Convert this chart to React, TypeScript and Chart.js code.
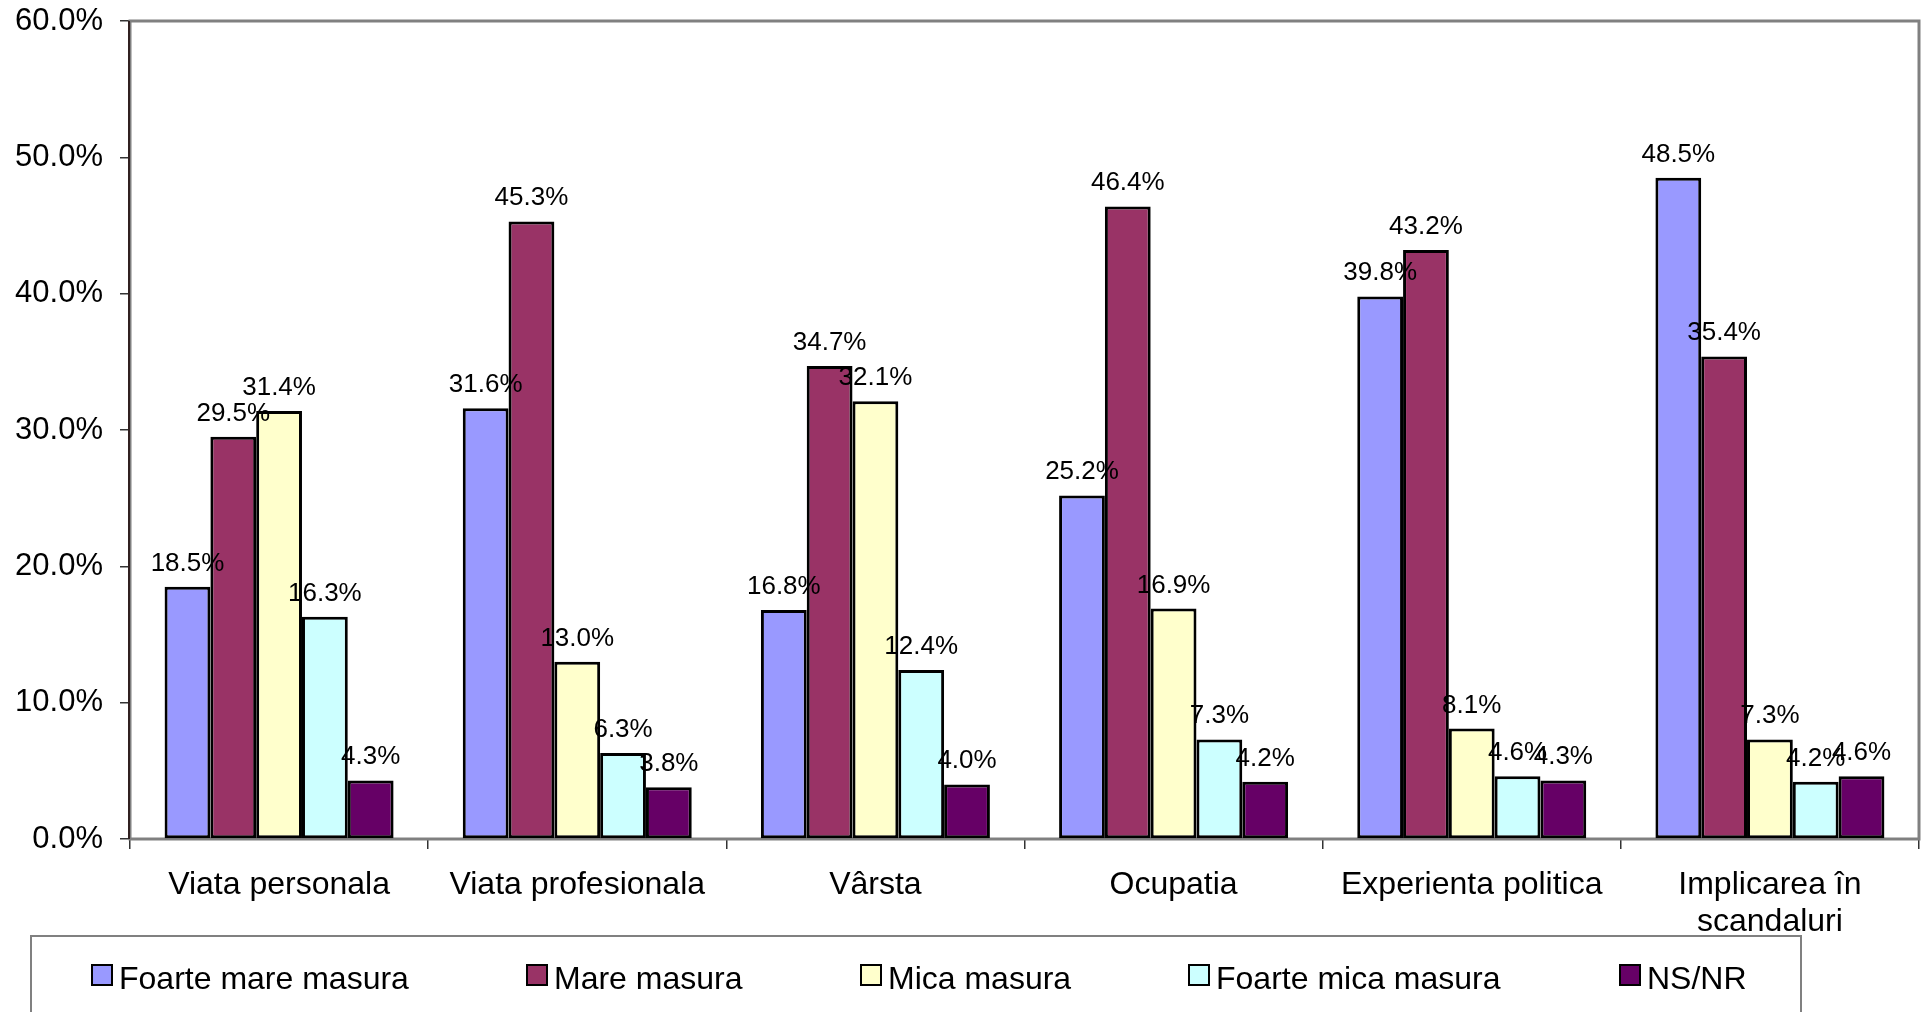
import React, { useEffect, useRef } from "react";
import { Chart, registerables } from "chart.js";

Chart.register(...registerables);

const categories: (string | string[])[] = [
  "Viata personala",
  "Viata profesionala",
  "Vârsta",
  "Ocupatia",
  "Experienta politica",
  ["Implicarea în", "scandaluri"],
];

const seriesNames = [
  "Foarte mare masura",
  "Mare masura",
  "Mica masura",
  "Foarte mica masura",
  "NS/NR",
];

const foarteMare = [18.5, 31.6, 16.8, 25.2, 39.8, 48.5];
const mare = [29.5, 45.3, 34.7, 46.4, 43.2, 35.4];
const mica = [31.4, 13.0, 32.1, 16.9, 8.1, 7.3];
const foarteMica = [16.3, 6.3, 12.4, 7.3, 4.6, 4.2];
const nsnr = [4.3, 3.8, 4.0, 4.2, 4.3, 4.6];

const seriesValues = [foarteMare, mare, mica, foarteMica, nsnr];
const seriesColors = ["#9999FF", "#993366", "#FFFFCC", "#CCFFFF", "#660066"];

const yTicks = [0, 10, 20, 30, 40, 50, 60];

const FONT = '"Liberation Sans", Arial, sans-serif';

const legendXs = [92, 527, 861, 1189, 1620];

export default function App() {
  const canvasRef = useRef<HTMLCanvasElement | null>(null);

  useEffect(() => {
    document.body.style.margin = "0";
    document.body.style.background = "#ffffff";
    const canvas = canvasRef.current;
    if (!canvas) return;

    const frame = {
      id: "frame",
      beforeDatasetsDraw(chart: any) {
        const { ctx, chartArea } = chart;
        ctx.save();
        ctx.strokeStyle = "#808080";
        ctx.lineWidth = 3;
        ctx.strokeRect(chartArea.left, chartArea.top, chartArea.right - chartArea.left, chartArea.bottom - chartArea.top);
        ctx.strokeStyle = "#302020";
        ctx.lineWidth = 2;
        ctx.beginPath();
        ctx.moveTo(chartArea.left - 1, chartArea.top);
        ctx.lineTo(chartArea.left - 1, chartArea.bottom);
        ctx.stroke();
        ctx.restore();
      },
    };

    const labels = {
      id: "valueLabels",
      afterDatasetsDraw(chart: any) {
        const { ctx } = chart;
        ctx.save();
        ctx.font = `26px ${FONT}`;
        ctx.fillStyle = "#000";
        ctx.textAlign = "center";
        ctx.textBaseline = "alphabetic";
        chart.data.datasets.forEach((ds: any, i: number) => {
          const meta = chart.getDatasetMeta(i);
          meta.data.forEach((bar: any, j: number) => {
            const v = ds.data[j] as number;
            ctx.fillText(`${v.toFixed(1)}%`, bar.x, bar.y - 16);
          });
        });
        ctx.restore();
      },
    };

    const legend = {
      id: "customLegend",
      afterDraw(chart: any) {
        const { ctx } = chart;
        ctx.save();
        ctx.strokeStyle = "#808080";
        ctx.lineWidth = 2;
        ctx.strokeRect(31, 936, 1770, 100);
        ctx.font = `32px ${FONT}`;
        ctx.textAlign = "left";
        ctx.textBaseline = "alphabetic";
        seriesNames.forEach((name, i) => {
          const x = legendXs[i];
          ctx.fillStyle = seriesColors[i];
          ctx.fillRect(x, 965, 20, 20);
          ctx.strokeStyle = "#000";
          ctx.lineWidth = 2;
          ctx.strokeRect(x, 965, 20, 20);
          ctx.fillStyle = "#000";
          ctx.fillText(name, x + 27, 989);
        });
        ctx.restore();
      },
    };

    const chart = new Chart(canvas, {
      type: "bar",
      data: {
        labels: categories,
        datasets: seriesNames.map((name, i) => ({
          label: name,
          data: seriesValues[i],
          backgroundColor: seriesColors[i],
          borderColor: "#000000",
          borderWidth: 3,
          borderSkipped: false,
          barPercentage: 1,
          categoryPercentage: 0.768,
        })),
      },
      options: {
        responsive: false,
        animation: false,
        maintainAspectRatio: false,
        layout: { padding: { left: 0, top: 21, right: 2, bottom: 0 } },
        plugins: {
          legend: { display: false },
          tooltip: { enabled: false },
        },
        scales: {
          x: {
            grid: {
              display: true,
              drawOnChartArea: false,
              drawTicks: true,
              tickLength: 10,
              color: "#333333",
              lineWidth: 1.5,
              offset: true,
            },
            border: { display: false },
            ticks: {
              color: "#000",
              font: { family: FONT, size: 32, lineHeight: 1.15 },
              padding: 18,
              maxRotation: 0,
              autoSkip: false,
            },
            afterFit(scale: any) {
              scale.height = 173;
              scale.paddingLeft = 0;
              scale.paddingRight = 0;
            },
          },
          y: {
            min: 0,
            max: 60,
            afterBuildTicks(scale: any) {
              scale.ticks = yTicks.map((v) => ({ value: v }));
            },
            grid: {
              display: true,
              drawOnChartArea: false,
              drawTicks: true,
              tickLength: 10,
              color: "#333333",
              lineWidth: 1.5,
            },
            border: { display: false },
            ticks: {
              color: "#000",
              font: { family: FONT, size: 31 },
              padding: 17,
              callback: (v: any) => `${Number(v).toFixed(1)}%`,
            },
            afterFit(scale: any) {
              scale.width = 130;
              scale.paddingTop = 0;
              scale.paddingBottom = 0;
            },
          },
        },
      },
      plugins: [frame, labels, legend],
    });

    return () => chart.destroy();
  }, []);

  return (
    <div style={{ position: "fixed", left: 0, top: 0, width: 1921, height: 1012, background: "#fff" }}>
      <canvas ref={canvasRef} width={1921} height={1012} style={{ display: "block", width: 1921, height: 1012 }} />
    </div>
  );
}
